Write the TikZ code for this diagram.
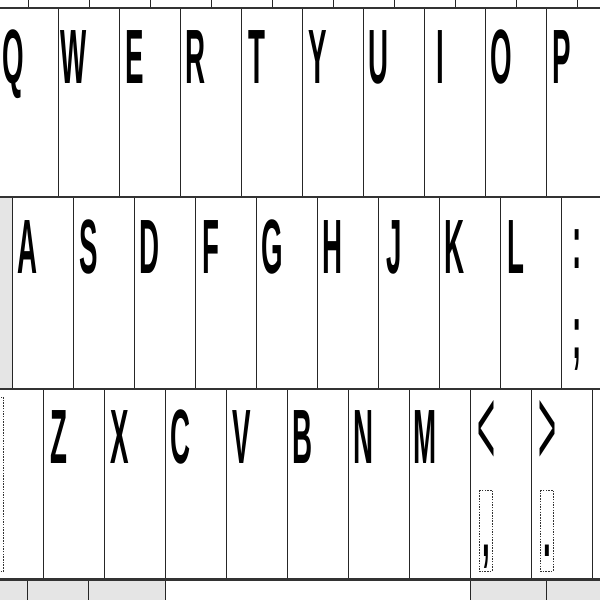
\documentclass[tikz,border=0pt]{standalone}
\usepackage{fontspec}
\setmainfont{Liberation Sans}
\newcommand\kcap[1]{\scalebox{0.36}[1]{#1}}
\newcommand\kang[1]{\scalebox{0.4}[1.45]{\mdseries #1}}
\begin{document}
\begin{tikzpicture}[x=1pt,y=-1pt,
  keybox/.style={draw=black!85,line width=0.8pt,fill=white},
  graykey/.style={draw=black!85,line width=0.8pt,fill=black!10},
  sep/.style={draw=black!80,line width=2.8pt},
  keycap/.style={inner sep=0pt,anchor=base,font=\fontsize{77}{77}\selectfont\bfseries},
  hint/.style={draw=black!80,line width=0.8pt,dash pattern=on 1.5pt off 1.2pt}]
\useasboundingbox (0,0) rectangle (600,600);
\clip (0,0) rectangle (600,600);
\fill[white] (0,0) rectangle (600,600);
% top strip
\foreach \x in {-33,28,89,150,211,272,333,394,455,516,577}
  \draw[keybox] (\x,-60) rectangle +(61,68);
% row 1
\foreach \x/\l in {-3/Q,58/W,119/E,180/R,241/T,302/Y,363/U,424/I,485/O,546/P}{
  \draw[keybox] (\x,8) rectangle +(61,189);
  \node[keycap] (k\l) at (\x+16,83) {\kcap{\l}};
}
\draw[keybox] (607,8) rectangle +(61,189);
% row 2
\draw[graykey] (-49,197) rectangle (12,389);
\foreach \x/\l in {12/A,73/S,134/D,195/F,256/G,317/H,378/J,439/K,500/L}{
  \draw[keybox] (\x,197) rectangle +(61,192);
  \node[keycap] (k\l) at (\x+16,273) {\kcap{\l}};
}
\draw[keybox] (561,197) rectangle +(61,192);
\node[keycap] (kcolon) at (577,268) {\kcap{:}};
\node[keycap] (ksemi) at (577,358) {\kcap{;}};
% row 3
\draw[keybox] (-18,389) rectangle (43,579);
\draw[hint] (-1,397) rectangle (3.5,571);
\foreach \x/\l in {43/Z,104/X,165/C,226/V,287/B,348/N,409/M}{
  \draw[keybox] (\x,389) rectangle +(61,190);
  \node[keycap] (k\l) at (\x+16,463) {\kcap{\l}};
}
\draw[keybox] (470,389) rectangle +(61,190);
\node[keycap] (klt) at (486,465) {\kang{<}};
\draw[hint] (479,490) rectangle (492,571);
\node[keycap] (kcomma) at (486,556) {\kcap{,}};
\draw[keybox] (531,389) rectangle +(61,190);
\node[keycap] (kgt) at (547,465) {\kang{>}};
\draw[hint] (540,490) rectangle (553,571);
\node[keycap] (kdot) at (547,556) {\kcap{.}};
\draw[keybox] (592,389) rectangle +(61,190);
% bottom strip
\draw[graykey] (-34,580) rectangle (27,660);
\draw[graykey] (27,580) rectangle (88,660);
\draw[graykey] (88,580) rectangle (165,660);
\draw[keybox] (165,580) rectangle (470,660);
\draw[graykey] (470,580) rectangle (546,660);
\draw[graykey] (546,580) rectangle (622,660);
% row separators
\draw[sep] (-5,8) -- (605,8);
\draw[sep] (-5,197) -- (605,197);
\draw[sep] (-5,389) -- (605,389);
\draw[sep] (-5,579.5) -- (605,579.5);
\end{tikzpicture}
\end{document}
